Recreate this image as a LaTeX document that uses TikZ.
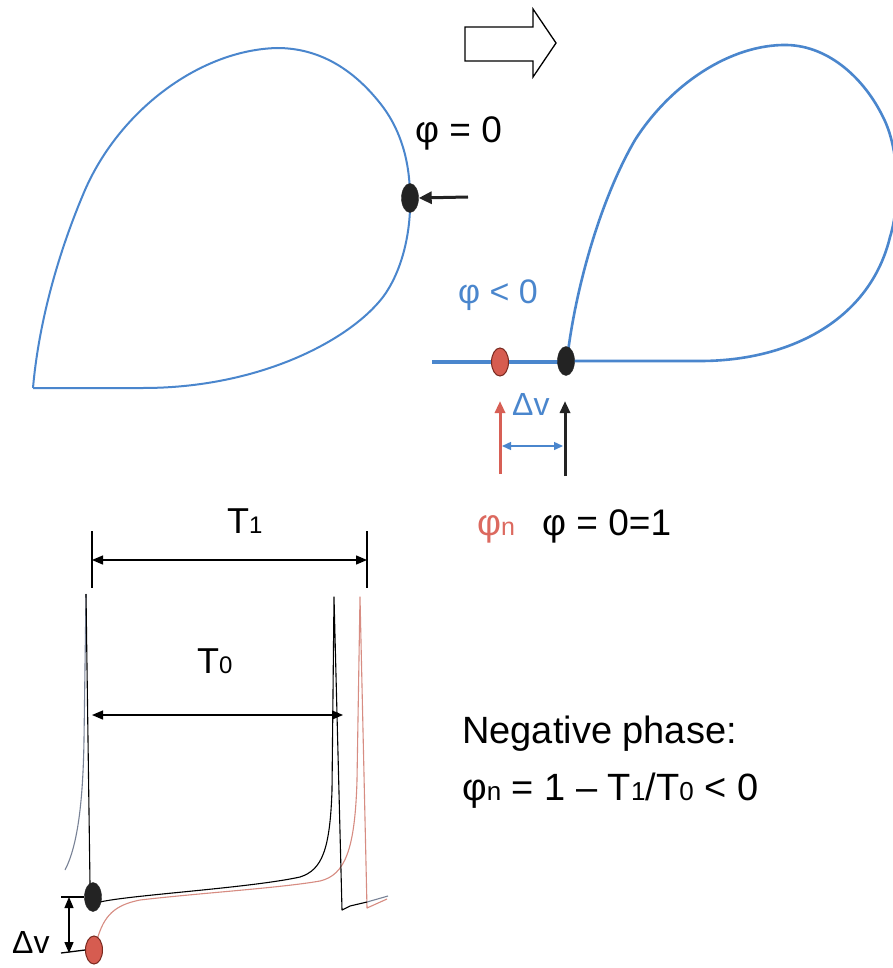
\documentclass[tikz,border=0pt]{standalone}
\usepackage{fontspec}
\setmainfont{Liberation Sans}
\usetikzlibrary{shapes.geometric,arrows.meta}
\definecolor{loopblue}{RGB}{74,134,205}
\definecolor{dotred}{RGB}{214,92,80}
\definecolor{dotredline}{RGB}{120,40,30}
\definecolor{arrowred}{RGB}{215,95,85}
\definecolor{phired}{RGB}{220,105,95}
\definecolor{tracered}{RGB}{215,140,130}
\definecolor{tracegrey}{RGB}{120,130,150}
\definecolor{dotblack}{RGB}{35,35,35}
\newcommand\smnum[2]{{\fontsize{#1}{#1}\selectfont #2}}
\begin{document}
\begin{tikzpicture}[x=1pt,y=-1pt,
  blackdot/.style={ellipse,fill=dotblack,draw=dotblack,minimum width=17pt,minimum height=29pt,inner sep=0pt},
  reddot/.style={ellipse,fill=dotred,draw=dotredline,line width=1pt,minimum width=17pt,minimum height=28pt,inner sep=0pt},
  txt/.style={anchor=base west,inner sep=0pt},
  dimarrow/.style={line width=1.3pt,{Triangle[length=11pt,width=9pt]}-{Triangle[length=11pt,width=9pt]}},
  tick/.style={line width=1.3pt},
  loopline/.style={draw=loopblue,line width=2pt},
  trace/.style={line width=1.1pt,line join=round}]
\useasboundingbox (0,0) rectangle (893,968);
\fill[white] (0,0) rectangle (893,968);
\clip (0,0) rectangle (893,968);

% ---------- top-left limit cycle ----------
\draw[loopline] (33,388) -- (143,388)
  .. controls (260,388) and (350,340) .. (383,297)
  .. controls (403,270) and (411,230) .. (410,198)
  .. controls (410,160) and (400,130) .. (383,107)
  .. controls (355,70) and (320,48) .. (277,48)
  .. controls (200,50) and (120,110) .. (85,190)
  .. controls (55,260) and (38,330) .. (33,388);
\node[blackdot] (d0) at (410,198) {};
\coordinate (a0) at (468,197);
\draw[line width=3pt,dotblack,-{Triangle[length=13pt,width=12pt]}] (a0) -- (d0.east);
\node[txt] (p0) at (415,143) {\fontsize{37}{37}\selectfont φ = 0};

% hollow arrow
\draw[line width=1.3pt,fill=white] (465,27) -- (533,27) -- (533,9) -- (556,43) -- (533,77) -- (533,61) -- (465,61) -- cycle;

% ---------- top-right cycle ----------
\draw[draw=loopblue,line width=4.5pt] (432,362) -- (567,362);
\draw[draw=loopblue,line width=2.6pt] (567,361) -- (700,361)
  .. controls (790,361) and (870,320) .. (890,237)
  .. controls (900,205) and (900,150) .. (883,117)
  .. controls (865,80) and (830,46) .. (787,45)
  .. controls (730,44) and (670,85) .. (635,140)
  .. controls (600,200) and (575,290) .. (567,360);
\node[reddot] (rn) at (500,362) {};
\node[blackdot] (bn) at (566,361) {};
\node[txt,text=loopblue] (pl) at (458,303) {\fontsize{34}{34}\selectfont φ < 0};

\coordinate (ra0) at (500,474);
\coordinate (ra1) at (500,401);
\coordinate (ba0) at (565,476);
\coordinate (ba1) at (565,401);
\draw[line width=3pt,arrowred,-{Triangle[length=12pt,width=10pt]}] (ra0) -- (ra1);
\draw[line width=3pt,dotblack,-{Triangle[length=12pt,width=10pt]}] (ba0) -- (ba1);
\coordinate (dv0) at (502,446);
\coordinate (dv1) at (563,446);
\draw[line width=1.4pt,loopblue,{Triangle[length=9pt,width=8pt]}-{Triangle[length=9pt,width=8pt]}] (dv0) -- (dv1);
\node[txt,text=loopblue] (dvt) at (512,415) {\fontsize{32}{32}\selectfont Δv};
\node[txt,text=phired] (phin) at (477,535) {\fontsize{37}{37}\selectfont φ\smnum{25}{n}};
\node[txt] (phi01) at (542,535) {\fontsize{37}{37}\selectfont φ = 0=1};

% ---------- lower: voltage traces ----------
% T1
\coordinate (t1a) at (92,531);
\coordinate (t1b) at (92,588);
\coordinate (t1c) at (367,531);
\coordinate (t1d) at (367,588);
\draw[tick] (t1a) -- (t1b);
\draw[tick] (t1c) -- (t1d);
\coordinate (t1l) at (92,560);
\coordinate (t1r) at (367,560);
\draw[dimarrow] (t1l) -- (t1r);
\node[txt] (T1) at (227,533) {\fontsize{36}{36}\selectfont T\smnum{24}{1}};

% T0
\coordinate (t0l) at (92,715);
\coordinate (t0r) at (343,715);
\draw[dimarrow] (t0l) -- (t0r);
\node[txt] (T0) at (197,673) {\fontsize{36}{36}\selectfont T\smnum{24}{0}};

% red trace
\draw[trace,tracered] (97,940) .. controls (104,915) and (115,905) .. (140,900)
  .. controls (200,893) and (280,888) .. (320,881)
  .. controls (345,875) and (355,850) .. (357,780)
  -- (360,597) -- (367,908) -- (387,899);
% first spike
\draw[trace,tracegrey] (65,870) .. controls (78,845) and (83,800) .. (84,740) -- (86,594);
\draw[trace,black] (86,594) -- (90,884);
% black trace
\draw[trace,black] (100,902) .. controls (130,895) and (250,888) .. (300,877)
  .. controls (322,870) and (330,850) .. (332,790)
  -- (334,597) -- (342,910) -- (350,906) -- (367,902);
\draw[trace,tracegrey] (367,902) -- (388,896);

\node[blackdot] (vd) at (93,897) {};
\node[reddot] (vr) at (94,950) {};

% Delta v
\coordinate (dva) at (61,897);
\coordinate (dvb) at (61,953);
\draw[tick] (dva) -- (vd.west);
\draw[tick] (dvb) -- (vr.west);
\coordinate (dvt0) at (69,897);
\coordinate (dvt1) at (69,953);
\draw[dimarrow] (dvt0) -- (dvt1);
\node[txt] (dvl) at (12,953) {\fontsize{32}{32}\selectfont Δv};

% formula
\node[txt] (neg) at (462,743) {\fontsize{38}{38}\selectfont Negative phase:};
\node[txt] (form) at (462,800) {\fontsize{38}{38}\selectfont φ\smnum{26}{n} = 1 – T\smnum{26}{1}/T\smnum{26}{0} < 0};
\end{tikzpicture}
\end{document}
